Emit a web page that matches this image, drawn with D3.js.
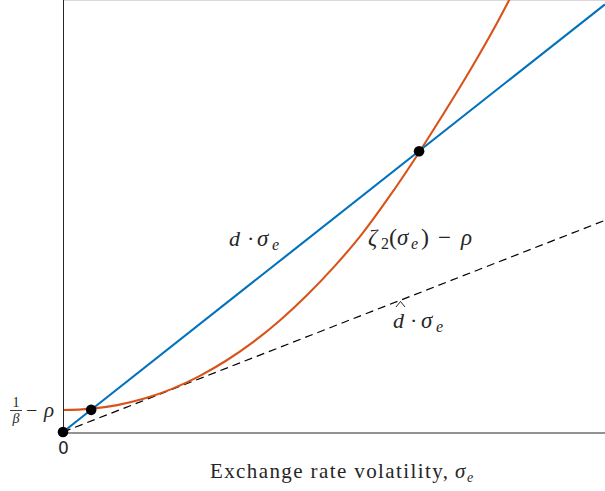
<!DOCTYPE html>
<html><head><meta charset="utf-8">
<script src="https://cdn.jsdelivr.net/npm/d3@7"></script>
<style>
body{margin:0;background:#fff;}
text{fill:#262626;}
.serif{font-family:"Liberation Serif","DejaVu Serif",serif;}
</style></head>
<body>
<svg id="c" width="605" height="491"></svg>
<script>
// ---- data ----
const xDomain = [0, 10];
const yDomain = [0, 8];
const dSlope = 0.792;      // d
const dHatSlope = 0.392;   // d-hat
const lineX = [0, 10];
const zetaX = [0, 0.5, 1, 1.5, 2, 2.5, 3, 3.5, 4, 4.5, 5, 5.5, 6, 6.5, 7, 7.5, 8, 8.3];
const zetaY = [0.407, 0.429, 0.498, 0.619, 0.794, 1.026, 1.315, 1.659, 2.066, 2.533, 3.058, 3.646, 4.33, 5.07, 5.86, 6.68, 7.56, 8.13];
const dotX = [0, 0.52, 6.57];
const dotY = [0, 0.41, 5.20];
const xTicks = [0];

// ---- layout ----
const L = 63, R = 605, T = 0, B = 432;
const x = d3.scaleLinear().domain(xDomain).range([L, R]);
const y = d3.scaleLinear().domain(yDomain).range([B, T]);
const svg = d3.select("#c");

svg.append("defs").append("clipPath").attr("id","clip")
  .append("rect").attr("x",L).attr("y",T).attr("width",R-L).attr("height",B-T+6);

// top box line (light)
svg.append("line").attr("x1",L).attr("x2",R).attr("y1",0.5).attr("y2",0.5)
  .attr("stroke","#d9d9d9").attr("stroke-width",1);

const g = svg.append("g").attr("clip-path","url(#clip)");
const line = d3.line().x(d=>x(d[0])).y(d=>y(d[1]));

// dashed d-hat line
g.append("path").datum(lineX.map(v=>[v, dHatSlope*v]))
  .attr("d",line).attr("fill","none").attr("stroke","#000")
  .attr("stroke-width",1.2).attr("stroke-dasharray","8,5");

// zeta curve
g.append("path").datum(zetaX.map((v,i)=>[v, zetaY[i]]))
  .attr("d",d3.line().x(d=>x(d[0])).y(d=>y(d[1])).curve(d3.curveMonotoneX)).attr("fill","none")
  .attr("stroke","#D95319").attr("stroke-width",2.1);

// blue d line
g.append("path").datum(lineX.map(v=>[v, dSlope*v]))
  .attr("d",line).attr("fill","none")
  .attr("stroke","#0072BD").attr("stroke-width",2.1);

// axes
const xAxis = d3.axisBottom(x).tickValues(xTicks).tickSize(0).tickPadding(9).tickFormat(d3.format("d"));
const ax = svg.append("g").attr("transform",`translate(0,${B+0.5})`).call(xAxis);
ax.select(".domain").attr("stroke","#262626").attr("stroke-width",1);
ax.selectAll("text").attr("font-family","DejaVu Sans, sans-serif").attr("font-size",17).attr("fill","#262626");

svg.append("line").attr("x1",L+0.5).attr("x2",L+0.5).attr("y1",0).attr("y2",B+1)
  .attr("stroke","#262626").attr("stroke-width",1);

// dots
svg.selectAll("circle.dot").data(dotX.map((v,i)=>[v,dotY[i]])).enter()
  .append("circle").attr("class","dot").attr("cx",d=>x(d[0])).attr("cy",d=>y(d[1]))
  .attr("r",5.3).attr("fill","#000");

// labels: pieces placed individually to mimic TeX spacing
function piece(px, py, txt, size, italic){
  const t = svg.append("text").attr("class","serif").attr("x",px).attr("y",py)
    .attr("font-size",size).text(txt);
  if(italic) t.attr("font-style","italic");
  return t;
}
// d · sigma_e
piece(229, 246, "d", 22, 1);
piece(247, 246, "·", 22, 0);
piece(257, 246, "σ", 23, 1);
piece(272, 250, "e", 16, 1);
// zeta_2(sigma_e) - rho
piece(368, 245, "ζ", 23, 1);
piece(381, 249, "2", 16, 0);
piece(389, 245, "(", 24, 0);
piece(397, 245, "σ", 23, 1);
piece(411, 249, "e", 16, 1);
piece(421, 245, ")", 24, 0);
piece(438, 245, "−", 23, 0);
piece(461, 245, "ρ", 23, 1);
// d-hat · sigma_e
piece(393, 328, "d", 22, 1);
piece(410, 328, "·", 22, 0);
piece(421, 328, "σ", 23, 1);
piece(436, 332, "e", 16, 1);
svg.append("path").attr("d","M396,307 L400.5,301.5 L405,307")
  .attr("fill","none").attr("stroke","#262626").attr("stroke-width",1);

// 1/beta - rho
piece(16, 407, "1", 14, 0).attr("text-anchor","middle");
svg.append("line").attr("x1",10).attr("x2",22).attr("y1",410.5).attr("y2",410.5)
  .attr("stroke","#262626").attr("stroke-width",0.9);
piece(16, 423, "β", 14, 1).attr("text-anchor","middle");
piece(26, 417, "−", 20, 0);
piece(44, 417, "ρ", 21, 1);

// x axis label
piece(210, 478, "Exchange rate volatility,", 21, 0)
  .attr("textLength",238).attr("lengthAdjust","spacing");
piece(455, 478, "σ", 21, 1);
piece(467, 482, "e", 14, 1);
</script>
</body></html>
